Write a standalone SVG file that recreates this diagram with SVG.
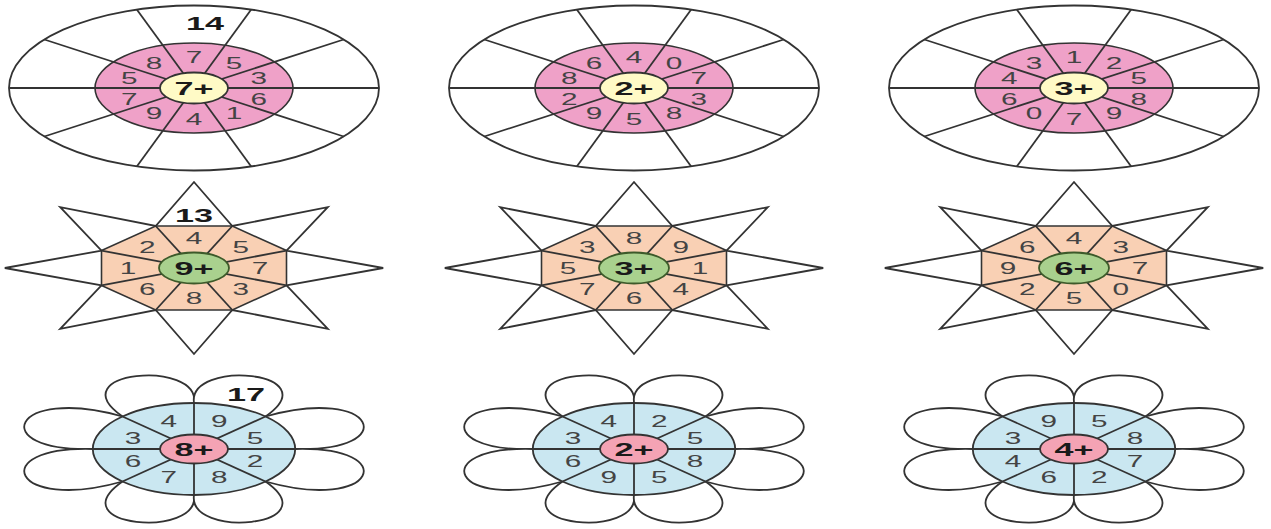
<svg xmlns="http://www.w3.org/2000/svg" xmlns:xlink="http://www.w3.org/1999/xlink" width="1271" height="529" viewBox="0 0 1271 529">
<style>
.ln{stroke:#333;stroke-width:1.8;fill:none}
.wf{fill:#fff;stroke:#333;stroke-width:1.8}
.pk{fill:#EFA1C8;stroke:#333;stroke-width:1.6}
.yl{fill:#FFFAC6;stroke:#333;stroke-width:1.8}
.pe{fill:#F9D0B4;stroke:#333;stroke-width:1.6}
.gr{fill:#A9D18E;stroke:#3d5a2a;stroke-width:1.8}
.bl{fill:#CAE7F1;stroke:#333;stroke-width:1.8}
.rd{fill:#F4A3B4;stroke:#333;stroke-width:1.8}
text{font-family:"Liberation Sans",Arial,sans-serif;text-anchor:middle}
.t{font-size:17px;fill:#444}
.b{font-size:18px;font-weight:bold;fill:#1a1a1a}
</style>
<defs>
<g id="wheel">
<ellipse class="wf" cx="0" cy="0" rx="185" ry="82.5"/>
<ellipse class="pk" cx="0" cy="0" rx="99" ry="45"/>
<g class="ln">
<line x1="-185" y1="0" x2="185" y2="0"/>
<line x1="-149.7" y1="48.5" x2="149.7" y2="-48.5"/>
<line x1="-57.2" y1="78.5" x2="57.2" y2="-78.5"/>
<line x1="57.2" y1="78.5" x2="-57.2" y2="-78.5"/>
<line x1="149.7" y1="48.5" x2="-149.7" y2="-48.5"/>
</g>
<ellipse class="yl" cx="0" cy="0" rx="34" ry="15.5"/>
</g>
<g id="star">
<polygon class="wf" points="189.2,0 92.5,-17.4 133.8,-60.8 38.3,-42 0,-86 -38.3,-42 -133.8,-60.8 -92.5,-17.4 -189.2,0 -92.5,17.4 -133.8,60.8 -38.3,42 0,86 38.3,42 133.8,60.8 92.5,17.4"/>
<polygon class="pe" points="92.5,-17.4 38.3,-42 -38.3,-42 -92.5,-17.4 -92.5,17.4 -38.3,42 38.3,42 92.5,17.4"/>
<g class="ln">
<line x1="92.5" y1="-17.4" x2="-92.5" y2="17.4"/>
<line x1="38.3" y1="-42" x2="-38.3" y2="42"/>
<line x1="-38.3" y1="-42" x2="38.3" y2="42"/>
<line x1="-92.5" y1="-17.4" x2="92.5" y2="17.4"/>
</g>
<ellipse class="gr" cx="0" cy="0" rx="35" ry="15.5"/>
</g>
<g id="flower">
<g class="wf">
<path d="M0,-46 C6.6,-90 -136.4,-78 -71.5,-32.5 L0,0 Z"/>
<path d="M0,-46 C-6.6,-90 136.4,-78 71.5,-32.5 L0,0 Z"/>
<path d="M-101.2,0 C-209,3 -182.6,-64 -71.5,-32.5 L0,0 Z"/>
<path d="M-101.2,0 C-209,-3 -182.6,64 -71.5,32.5 L0,0 Z"/>
<path d="M0,46 C6.6,90 -136.4,78 -71.5,32.5 L0,0 Z"/>
<path d="M0,46 C-6.6,90 136.4,78 71.5,32.5 L0,0 Z"/>
<path d="M101.2,0 C209,3 182.6,-64 71.5,-32.5 L0,0 Z"/>
<path d="M101.2,0 C209,-3 182.6,64 71.5,32.5 L0,0 Z"/>
</g>
<ellipse class="bl" cx="0" cy="0" rx="101.2" ry="46"/>
<g class="ln">
<line x1="-101.2" y1="0" x2="101.2" y2="0"/>
<line x1="0" y1="-46" x2="0" y2="46"/>
<line x1="-71.5" y1="-32.5" x2="71.5" y2="32.5"/>
<line x1="-71.5" y1="32.5" x2="71.5" y2="-32.5"/>
</g>
<ellipse class="rd" cx="0" cy="0" rx="34" ry="14.5"/>
</g>
</defs>

<g id="wheel-1">
<use href="#wheel" x="194" y="88"/>
<text class="b" transform="translate(205 30) scale(1.9 1)">14</text>
<text class="t" transform="translate(258.7 83.5) scale(1.75 1)">3</text>
<text class="t" transform="translate(234 68.9) scale(1.75 1)">5</text>
<text class="t" transform="translate(194 63) scale(1.75 1)">7</text>
<text class="t" transform="translate(154 68.9) scale(1.75 1)">8</text>
<text class="t" transform="translate(129.3 83.5) scale(1.75 1)">5</text>
<text class="t" transform="translate(129.3 104.5) scale(1.75 1)">7</text>
<text class="t" transform="translate(154 119.1) scale(1.75 1)">9</text>
<text class="t" transform="translate(194 125) scale(1.75 1)">4</text>
<text class="t" transform="translate(234 119.1) scale(1.75 1)">1</text>
<text class="t" transform="translate(258.7 104.5) scale(1.75 1)">6</text>
<text class="b" transform="translate(194 94.5) scale(1.9 1)">7+</text>
</g>

<g id="wheel-2">
<use href="#wheel" x="634" y="88"/>
<text class="t" transform="translate(698.7 83.5) scale(1.75 1)">7</text>
<text class="t" transform="translate(674 68.9) scale(1.75 1)">0</text>
<text class="t" transform="translate(634 63) scale(1.75 1)">4</text>
<text class="t" transform="translate(594 68.9) scale(1.75 1)">6</text>
<text class="t" transform="translate(569.3 83.5) scale(1.75 1)">8</text>
<text class="t" transform="translate(569.3 104.5) scale(1.75 1)">2</text>
<text class="t" transform="translate(594 119.1) scale(1.75 1)">9</text>
<text class="t" transform="translate(634 125) scale(1.75 1)">5</text>
<text class="t" transform="translate(674 119.1) scale(1.75 1)">8</text>
<text class="t" transform="translate(698.7 104.5) scale(1.75 1)">3</text>
<text class="b" transform="translate(634 94.5) scale(1.9 1)">2+</text>
</g>

<g id="wheel-3">
<use href="#wheel" x="1074" y="88"/>
<text class="t" transform="translate(1138.7 83.5) scale(1.75 1)">5</text>
<text class="t" transform="translate(1114 68.9) scale(1.75 1)">2</text>
<text class="t" transform="translate(1074 63) scale(1.75 1)">1</text>
<text class="t" transform="translate(1034 68.9) scale(1.75 1)">3</text>
<text class="t" transform="translate(1009.3 83.5) scale(1.75 1)">4</text>
<text class="t" transform="translate(1009.3 104.5) scale(1.75 1)">6</text>
<text class="t" transform="translate(1034 119.1) scale(1.75 1)">0</text>
<text class="t" transform="translate(1074 125) scale(1.75 1)">7</text>
<text class="t" transform="translate(1114 119.1) scale(1.75 1)">9</text>
<text class="t" transform="translate(1138.7 104.5) scale(1.75 1)">8</text>
<text class="b" transform="translate(1074 94.5) scale(1.9 1)">3+</text>
</g>

<g id="star-1">
<use href="#star" x="194" y="268"/>
<text class="b" transform="translate(194 222) scale(1.9 1)">13</text>
<text class="t" transform="translate(260 274) scale(1.75 1)">7</text>
<text class="t" transform="translate(240.7 252.8) scale(1.75 1)">5</text>
<text class="t" transform="translate(194 244) scale(1.75 1)">4</text>
<text class="t" transform="translate(147.3 252.8) scale(1.75 1)">2</text>
<text class="t" transform="translate(128 274) scale(1.75 1)">1</text>
<text class="t" transform="translate(147.3 295.2) scale(1.75 1)">6</text>
<text class="t" transform="translate(194 304) scale(1.75 1)">8</text>
<text class="t" transform="translate(240.7 295.2) scale(1.75 1)">3</text>
<text class="b" transform="translate(194 274.5) scale(1.9 1)">9+</text>
</g>

<g id="star-2">
<use href="#star" x="634" y="268"/>
<text class="t" transform="translate(700 274) scale(1.75 1)">1</text>
<text class="t" transform="translate(680.7 252.8) scale(1.75 1)">9</text>
<text class="t" transform="translate(634 244) scale(1.75 1)">8</text>
<text class="t" transform="translate(587.3 252.8) scale(1.75 1)">3</text>
<text class="t" transform="translate(568 274) scale(1.75 1)">5</text>
<text class="t" transform="translate(587.3 295.2) scale(1.75 1)">7</text>
<text class="t" transform="translate(634 304) scale(1.75 1)">6</text>
<text class="t" transform="translate(680.7 295.2) scale(1.75 1)">4</text>
<text class="b" transform="translate(634 274.5) scale(1.9 1)">3+</text>
</g>

<g id="star-3">
<use href="#star" x="1074" y="268"/>
<text class="t" transform="translate(1140 274) scale(1.75 1)">7</text>
<text class="t" transform="translate(1120.7 252.8) scale(1.75 1)">3</text>
<text class="t" transform="translate(1074 244) scale(1.75 1)">4</text>
<text class="t" transform="translate(1027.3 252.8) scale(1.75 1)">6</text>
<text class="t" transform="translate(1008 274) scale(1.75 1)">9</text>
<text class="t" transform="translate(1027.3 295.2) scale(1.75 1)">2</text>
<text class="t" transform="translate(1074 304) scale(1.75 1)">5</text>
<text class="t" transform="translate(1120.7 295.2) scale(1.75 1)">0</text>
<text class="b" transform="translate(1074 274.5) scale(1.9 1)">6+</text>
</g>

<g id="flower-1">
<use href="#flower" x="194" y="449"/>
<text class="b" transform="translate(246 401) scale(1.9 1)">17</text>
<text class="t" transform="translate(255 443.5) scale(1.75 1)">5</text>
<text class="t" transform="translate(219.3 427.3) scale(1.75 1)">9</text>
<text class="t" transform="translate(168.7 427.3) scale(1.75 1)">4</text>
<text class="t" transform="translate(133 443.5) scale(1.75 1)">3</text>
<text class="t" transform="translate(133 466.5) scale(1.75 1)">6</text>
<text class="t" transform="translate(168.7 482.7) scale(1.75 1)">7</text>
<text class="t" transform="translate(219.3 482.7) scale(1.75 1)">8</text>
<text class="t" transform="translate(255 466.5) scale(1.75 1)">2</text>
<text class="b" transform="translate(194 455.5) scale(1.9 1)">8+</text>
</g>

<g id="flower-2">
<use href="#flower" x="634" y="449"/>
<text class="t" transform="translate(695 443.5) scale(1.75 1)">5</text>
<text class="t" transform="translate(659.3 427.3) scale(1.75 1)">2</text>
<text class="t" transform="translate(608.7 427.3) scale(1.75 1)">4</text>
<text class="t" transform="translate(573 443.5) scale(1.75 1)">3</text>
<text class="t" transform="translate(573 466.5) scale(1.75 1)">6</text>
<text class="t" transform="translate(608.7 482.7) scale(1.75 1)">9</text>
<text class="t" transform="translate(659.3 482.7) scale(1.75 1)">5</text>
<text class="t" transform="translate(695 466.5) scale(1.75 1)">8</text>
<text class="b" transform="translate(634 455.5) scale(1.9 1)">2+</text>
</g>

<g id="flower-3">
<use href="#flower" x="1074" y="449"/>
<text class="t" transform="translate(1135 443.5) scale(1.75 1)">8</text>
<text class="t" transform="translate(1099.3 427.3) scale(1.75 1)">5</text>
<text class="t" transform="translate(1048.7 427.3) scale(1.75 1)">9</text>
<text class="t" transform="translate(1013 443.5) scale(1.75 1)">3</text>
<text class="t" transform="translate(1013 466.5) scale(1.75 1)">4</text>
<text class="t" transform="translate(1048.7 482.7) scale(1.75 1)">6</text>
<text class="t" transform="translate(1099.3 482.7) scale(1.75 1)">2</text>
<text class="t" transform="translate(1135 466.5) scale(1.75 1)">7</text>
<text class="b" transform="translate(1074 455.5) scale(1.9 1)">4+</text>
</g>
</svg>
